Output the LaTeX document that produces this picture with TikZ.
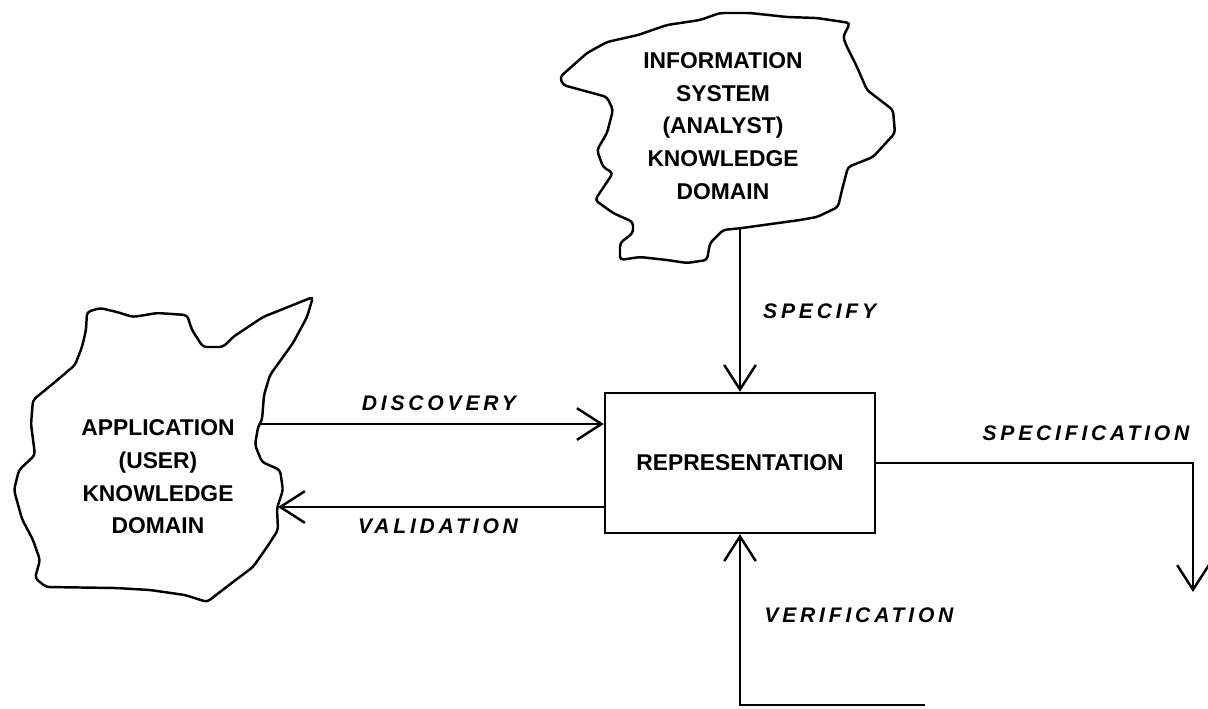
\documentclass[tikz,border=0pt]{standalone}
\usepackage{fontspec}
\setmainfont{Liberation Sans}
\newfontfamily\lblfont[LetterSpace=18]{Liberation Sans}
\usetikzlibrary{positioning, arrows.meta}

\begin{document}
\begin{tikzpicture}[x=0.02cm, y=-0.02cm,
    outline/.style={line width=1.4pt, rounded corners=2pt},
    knowledge/.style={align=center, font=\fontsize{13}{18.6}\selectfont\bfseries},
    flow/.style={line width=1.4pt, -{Straight Barb[length=14pt, width=18pt]}},
    lbl/.style={font=\fontsize{12}{14}\lblfont\bfseries\itshape}]
    \useasboundingbox (0,0) rectangle (1208,708);
    \draw[outline] (560,77) -- (587,53) -- (607,42) -- (638,35) -- (667,25) -- (700,20) -- (720,13)
        -- (750,13) -- (787,17) -- (817,18) -- (850,23) -- (843,37) -- (847,47) -- (857,67)
        -- (867,90) -- (893,110) -- (895,133) -- (873,157) -- (848,167) -- (842,190) -- (838,207)
        -- (817,217) -- (800,220) -- (742,228) -- (723,230) -- (710,243) -- (707,260) -- (687,263)
        -- (667,260) -- (640,257) -- (620,260) -- (620,243) -- (633,233) -- (633,222) -- (613,213)
        -- (595,200) -- (613,173) -- (603,167) -- (597,150) -- (607,133) -- (613,110) -- (607,97)
        -- (563,85) -- cycle;
    \draw[outline] (87,312) -- (100,308) -- (117,312) -- (133,317) -- (157,313) -- (187,315)
        -- (192,330) -- (203,347) -- (223,347) -- (233,337) -- (263,317) -- (313,297) -- (307,317)
        -- (293,343) -- (270,375) -- (264,395) -- (262,420) -- (258,427) -- (255,445) -- (262,462)
        -- (280,470) -- (283,490) -- (277,508) -- (278,530) -- (267,547) -- (253,567) -- (233,582)
        -- (207,602) -- (185,595) -- (150,590) -- (116,588) -- (46,587) -- (35,578) -- (40,560)
        -- (33,540) -- (22,519) -- (14,490) -- (19,470) -- (35,455) -- (31,424) -- (33,400)
        -- (55,382) -- (75,365) -- (82,347) -- (86,330) -- cycle;
    \node[knowledge] (info) at (723,126) {INFORMATION\\SYSTEM\\(ANALYST)\\KNOWLEDGE\\DOMAIN};
    \node[knowledge] (app) at (158,477) {APPLICATION\\(USER)\\KNOWLEDGE\\DOMAIN};
    \node[draw, line width=1.4pt, minimum width=5.4cm, minimum height=2.8cm,
        font=\fontsize{13}{15}\selectfont\bfseries] (rep) at (740,463) {REPRESENTATION};
    \coordinate (infoB) at (740,228);
    \coordinate (appD) at (259,424);
    \coordinate (appV) at (278,507);
    \coordinate (specE) at (1193,592);
    \coordinate (verS) at (925,705);
    \draw[flow] (infoB) -- (rep.north);
    \draw[flow] (appD) -- (rep.west |- appD);
    \draw[flow] (rep.west |- appV) -- (appV);
    \draw[flow] (rep.east) -| (specE);
    \draw[flow] (verS) -| (rep.south);
    \node[lbl, anchor=west] (specify) at (757,311) {SPECIFY};
    \node[lbl] (discovery) at (439,403) {DISCOVERY};
    \node[lbl] (validation) at (438,526) {VALIDATION};
    \node[lbl] (specification) at (1086,433) {SPECIFICATION};
    \node[lbl] (verification) at (859,615) {VERIFICATION};
\end{tikzpicture}
\end{document}
